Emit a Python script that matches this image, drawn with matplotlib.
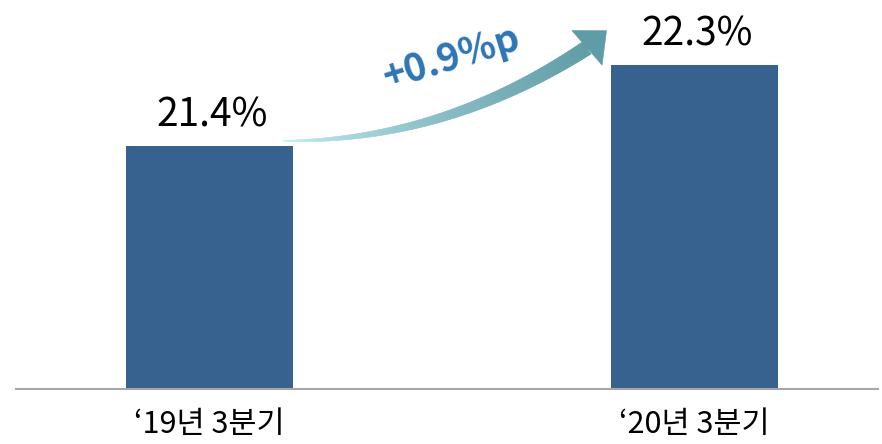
import numpy as np
import matplotlib
matplotlib.use("Agg")
import matplotlib.pyplot as plt
from matplotlib.collections import PolyCollection
from matplotlib.patches import Polygon

plt.rcParams['font.family'] = ['Noto Sans CJK KR', 'DejaVu Sans']

# data
periods = ['\u201819년 3분기', '\u201820년 3분기']
shares = [21.4, 22.3]
change_label = '+0.9%p'

bar_color = '#37618f'
W, H = 882, 444
fig = plt.figure(figsize=(W / 100, H / 100), dpi=100)

# main axes: baseline at y=389px, axis line from x=16 to 878
ax = fig.add_axes([16 / W, (H - 389) / H, (878 - 16) / W, 389 / H])
x = np.arange(len(periods))
bw = 0.344
ax.bar(x, shares, width=bw, color=bar_color, zorder=2)
ax.set_xlim(-0.399, 1.378)
ax.set_ylim(18.7, 23.02)

for xi, v in zip(x, shares):
    ax.annotate(f'{v:.1f}%', (xi + 0.005, v), xytext=(0, 14), textcoords='offset points',
                ha='center', va='baseline', fontsize=28, color='black')

ax.set_xticks(x)
ax.set_xticklabels(periods, fontsize=22, va='baseline')
ax.tick_params(axis='x', length=0, pad=32)
ax.set_yticks([])
for s in ['top', 'left', 'right']:
    ax.spines[s].set_visible(False)
ax.spines['bottom'].set_color('#a6a6a6')
ax.spines['bottom'].set_linewidth(1.5)

# overlay in pixel coordinates for the curved gradient arrow
ov = fig.add_axes([0, 0, 1, 1])
ov.set_xlim(0, W)
ov.set_ylim(0, H)
ov.axis('off')

p0 = ax.transData.transform((x[0] + bw / 2 - 0.02, shares[0])) + np.array([0, 5])
p2 = ax.transData.transform((x[1] - bw / 2 - 0.05, shares[1])) + np.array([0, 17])
ctrl = np.array([p0[0] + 160, p0[1] - 1])

t = np.linspace(0, 1, 200)
pts = ((1 - t)[:, None] ** 2) * p0 + (2 * t * (1 - t))[:, None] * ctrl + (t[:, None] ** 2) * p2
d = np.gradient(pts, axis=0)
d /= np.linalg.norm(d, axis=1)[:, None]
n = np.column_stack([-d[:, 1], d[:, 0]])
w = 14 * t ** 0.85 + 0.8
left = pts + n * (w / 2)[:, None]
right = pts - n * (w / 2)[:, None]

c0 = np.array([0.80, 0.95, 0.98])
c1 = np.array([0.37, 0.61, 0.65])
quads, cols = [], []
for i in range(len(t) - 1):
    quads.append([left[i], left[i + 1], right[i + 1], right[i]])
    tm = (t[i] + t[i + 1]) / 2
    cols.append(c0 + (c1 - c0) * tm ** 0.7)
ov.add_collection(PolyCollection(quads, facecolors=cols, edgecolors=cols, linewidths=0.4))

# head
dh = d[-1]
ang = np.deg2rad(8)
dh = np.array([dh[0] * np.cos(ang) - dh[1] * np.sin(ang), dh[0] * np.sin(ang) + dh[1] * np.cos(ang)])
nh = np.array([-dh[1], dh[0]])
base = pts[-1]
head = [base + nh * 23, base + dh * 26, base - nh * 23]
ov.add_patch(Polygon(head, closed=True, facecolor=c1, edgecolor=c1, linewidth=0.4))

# change label
ov.text(451, H - 58, change_label, rotation=17, rotation_mode='anchor',
        ha='center', va='center', fontsize=27.5, fontweight='bold', color='#2e75b6')

fig.savefig('out.png', dpi=100)
